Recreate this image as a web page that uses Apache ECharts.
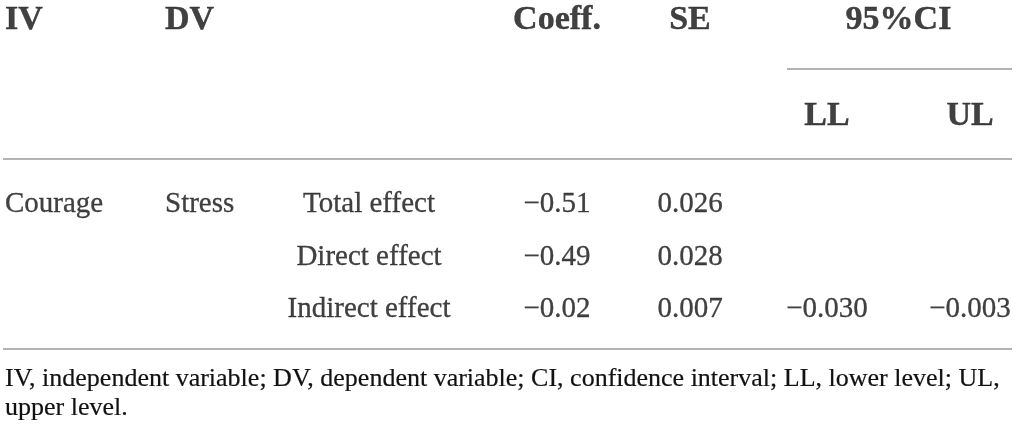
<!DOCTYPE html>
<html>
<head>
<meta charset="utf-8">
<title>Mediation effects</title>
<script src="https://cdn.jsdelivr.net/npm/echarts@6.0.0/dist/echarts.min.js"></script>
<style>
  html, body { margin: 0; padding: 0; background: #fff; }
  #chart { width: 1017px; height: 441px; }
</style>
</head>
<body>
<div id="chart"></div>
<script>
// 表格数据
const headers = ['IV', 'DV', '', 'Coeff.', 'SE'];
const ciHeader = '95%CI';
const ciSubHeaders = ['LL', 'UL'];
const ivNames = ['Courage', '', ''];
const dvNames = ['Stress', '', ''];
const effects = ['Total effect', 'Direct effect', 'Indirect effect'];
const coeff = [-0.51, -0.49, -0.02];
const se = [0.026, 0.028, 0.007];
const ll = [null, null, -0.030];
const ul = [null, null, -0.003];
const footnote = 'IV, independent variable; DV, dependent variable; CI, confidence interval; LL, lower level; UL,\nupper level.';

// 版面：列位置和行位置（像素坐标系，坐标轴 0..1017 / 0..441）
const colX = [5, 165, 369, 557, 690, 827, 970];
const colAlign = ['left', 'left', 'center', 'center', 'center', 'center', 'center'];
const headerY = 20;
const subHeaderY = 116;
const rowY = [204, 257, 309];
const rules = [
  { y: 69, from: 787, to: 1012 },
  { y: 159, from: 3, to: 1012 },
  { y: 349, from: 3, to: 1012 }
];

const fmt = (v, d) => v == null ? '' : (v < 0 ? '\u2212' : '') + Math.abs(v).toFixed(d);

const ink = '#111';
const headerFont = {
  fontFamily: 'Liberation Serif', fontWeight: 'bold', fontSize: 34, color: ink,
  textBorderColor: ink, textBorderWidth: 0.4
};
const bodyFont = {
  fontFamily: 'Liberation Serif', fontWeight: 'normal', fontSize: 29, color: ink,
  textBorderColor: ink, textBorderWidth: 0.3
};

const cell = (x, y, text, align, font) => ({
  value: [x, y],
  label: Object.assign({ formatter: text, align: align }, font)
});

// 组装单元格
const cells = [];
headers.forEach((h, c) => {
  if (h) cells.push(cell(colX[c], headerY, h, colAlign[c], headerFont));
});
cells.push(cell((colX[5] + colX[6]) / 2, headerY, ciHeader, 'center', headerFont));
ciSubHeaders.forEach((h, i) => {
  cells.push(cell(colX[5 + i], subHeaderY, h, 'center', headerFont));
});
effects.forEach((e, r) => {
  const row = [ivNames[r], dvNames[r], e, fmt(coeff[r], 2), fmt(se[r], 3), fmt(ll[r], 3), fmt(ul[r], 3)];
  row.forEach((t, c) => {
    if (t) cells.push(cell(colX[c], rowY[r], t, colAlign[c], bodyFont));
  });
});

const chart = echarts.init(document.getElementById('chart'), null, { renderer: 'canvas' });
chart.setOption({
  animation: false,
  backgroundColor: '#fff',
  title: {
    text: footnote,
    left: 5,
    top: 365,
    padding: 0,
    textStyle: {
      fontFamily: 'Liberation Serif', fontWeight: 'normal', fontSize: 26, lineHeight: 29, color: ink,
      textBorderColor: ink, textBorderWidth: 0.2
    }
  },
  grid: { left: 0, right: 0, top: 0, bottom: 0 },
  xAxis: { type: 'value', min: 0, max: 1017, show: false },
  yAxis: { type: 'value', min: 0, max: 441, inverse: true, show: false },
  series: [
    {
      type: 'scatter',
      symbolSize: 0,
      silent: true,
      label: { show: true, position: 'inside', verticalAlign: 'middle' },
      data: cells
    },
    {
      type: 'line',
      data: [],
      silent: true,
      markLine: {
        symbol: 'none',
        silent: true,
        label: { show: false },
        lineStyle: { color: '#b3b3b3', width: 2, type: 'solid' },
        data: rules.map(r => [{ coord: [r.from, r.y] }, { coord: [r.to, r.y] }])
      }
    }
  ]
});
</script>
</body>
</html>
